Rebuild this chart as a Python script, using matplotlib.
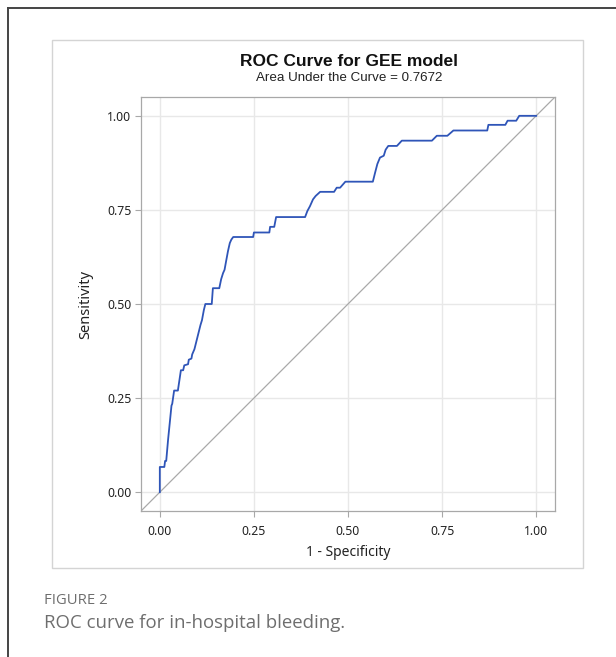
import numpy as np
import matplotlib.pyplot as plt
from matplotlib.patches import Rectangle
from matplotlib.lines import Line2D

# ROC curve vertices (1 - specificity, sensitivity)
fpr = [0.000, 0.000, 0.012, 0.014, 0.017, 0.022, 0.027, 0.031, 0.033, 0.038,
       0.048, 0.052, 0.056, 0.062, 0.065, 0.075, 0.077, 0.084, 0.086, 0.092,
       0.098, 0.102, 0.108, 0.112, 0.117, 0.121, 0.138, 0.141, 0.158, 0.163,
       0.168, 0.172, 0.176, 0.181, 0.183, 0.186, 0.190, 0.195, 0.248, 0.250,
       0.291, 0.293, 0.304, 0.309, 0.386, 0.392, 0.399, 0.407, 0.414, 0.426,
       0.463, 0.470, 0.479, 0.493, 0.566, 0.572, 0.578, 0.585, 0.595, 0.600,
       0.607, 0.630, 0.643, 0.723, 0.736, 0.764, 0.780, 0.870, 0.873, 0.918,
       0.924, 0.947, 0.955, 1.000]
tpr = [0.000, 0.067, 0.067, 0.083, 0.083, 0.140, 0.190, 0.230, 0.235, 0.270,
       0.270, 0.297, 0.324, 0.324, 0.337, 0.340, 0.352, 0.355, 0.366, 0.380,
       0.404, 0.420, 0.444, 0.457, 0.484, 0.500, 0.500, 0.542, 0.542, 0.566,
       0.582, 0.591, 0.613, 0.640, 0.649, 0.662, 0.671, 0.678, 0.678, 0.690,
       0.690, 0.705, 0.705, 0.731, 0.731, 0.747, 0.760, 0.778, 0.787, 0.798,
       0.798, 0.809, 0.809, 0.825, 0.825, 0.849, 0.872, 0.889, 0.894, 0.910,
       0.920, 0.920, 0.934, 0.934, 0.947, 0.947, 0.961, 0.961, 0.976, 0.976,
       0.987, 0.987, 1.000, 1.000]
auc = 0.7672
ticks = [0.00, 0.25, 0.50, 0.75, 1.00]

W, H = 616, 657
fig = plt.figure(figsize=(W / 100, H / 100), dpi=100)


def fx(px):
    return px / W


def fy(py):
    return 1 - py / H


# outer frame (only top and left edges visible)
fig.add_artist(Line2D([fx(8), fx(8)], [fy(8), 0], color='#444444', lw=1.4,
                      transform=fig.transFigure))
fig.add_artist(Line2D([fx(8), 1], [fy(8), fy(8)], color='#444444', lw=1.4,
                      transform=fig.transFigure))

# inner chart box
fig.add_artist(Rectangle((fx(52), fy(568)), fx(583) - fx(52), fy(40) - fy(568),
                         fill=False, edgecolor='#d4d4d4', lw=1.0,
                         transform=fig.transFigure))

ax = fig.add_axes([fx(141), fy(511), fx(555) - fx(141), fy(97) - fy(511)])
ax.set_xlim(-0.05, 1.05)
ax.set_ylim(-0.05, 1.05)
ax.set_xticks(ticks)
ax.set_yticks(ticks)
ax.set_xticklabels(['%.2f' % t for t in ticks])
ax.set_yticklabels(['%.2f' % t for t in ticks])
ax.grid(True, color='#e8e8e8', lw=1.0)
ax.set_axisbelow(True)
for s in ax.spines.values():
    s.set_color('#a8a8a8')
    s.set_linewidth(0.9)
ax.tick_params(length=4, width=0.8, color='#a8a8a8', labelsize=8.8,
               labelcolor='#222222', pad=3)
ax.tick_params(axis='x', pad=6)
for lab in ax.get_xticklabels() + ax.get_yticklabels():
    lab.set_family('Noto Sans')

ax.plot([-0.05, 1.05], [-0.05, 1.05], color='#a9a9a9', lw=0.9)
ax.plot(fpr, tpr, color='#2f55b8', lw=1.3)

ax.set_xlabel('1 - Specificity', family='Noto Sans', fontsize=10,
              color='#222222', labelpad=5)
ax.set_ylabel('Sensitivity', family='Noto Sans', fontsize=10.5,
              color='#222222', labelpad=10)

fig.text(fx(349), fy(62), 'ROC Curve for GEE model', family='Liberation Sans',
         fontsize=12.5, fontweight='bold', ha='center', va='center', color='#111111')
fig.text(fx(349), fy(78), 'Area Under the Curve = %.4f' % auc,
         family='Liberation Sans', fontsize=9.6, ha='center', va='center',
         color='#222222')

fig.text(fx(44), fy(600), 'FIGURE 2', family='Open Sans', fontsize=10.7,
         ha='left', va='center', color='#6e6e6e')
fig.text(fx(44), fy(623), 'ROC curve for in-hospital bleeding.', family='Open Sans',
         fontsize=13.4, ha='left', va='center', color='#6e6e6e')

fig.savefig('out.png', dpi=100)
